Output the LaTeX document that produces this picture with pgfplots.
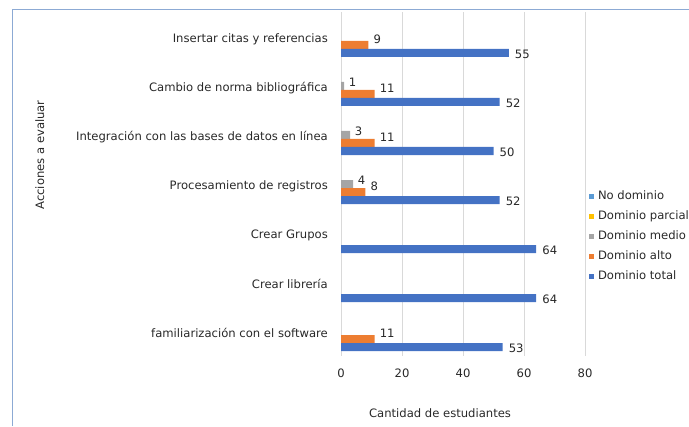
\documentclass[border=0pt]{standalone}
\usepackage{pgfplots}
\pgfplotsset{compat=1.18}
\usepackage{fontspec}
\setmainfont{DejaVu Sans}
\definecolor{ctotal}{HTML}{4472C4}
\definecolor{calto}{HTML}{ED7D31}
\definecolor{cmedio}{HTML}{A5A5A5}
\definecolor{cparcial}{HTML}{FFC000}
\definecolor{cno}{HTML}{5B9BD5}
\definecolor{cgrid}{HTML}{D9D9D9}
\definecolor{cframe}{RGB}{140,170,212}
\definecolor{ctext}{RGB}{40,40,40}
\begin{document}
\begin{tikzpicture}[x=1bp,y=1bp,font=\fontsize{11.6bp}{13.5bp}\selectfont,text=ctext]
\useasboundingbox (0,0) rectangle (689,426);
\clip (0,0) rectangle (689,426);
\draw[cframe,line width=1bp] (12,0) -- (12,416) -- (700,416);
\pgfplotsset{sqleg/.style={legend image code/.code={\fill[##1,draw=none] (0bp,-2.5bp) rectangle (5bp,2.5bp);}}}
\begin{axis}[
  at={(341bp,70.5bp)}, anchor=south west,
  scale only axis, width=244bp, height=343bp,
  xbar, bar width=8bp,
  xmin=0, xmax=80, ymin=-0.5, ymax=6.5,
  xtick={0,20,40,60,80},
  ytick={0,1,2,3,4,5,6},
  yticklabels={familiarización con el software, Crear librería, Crear Grupos, Procesamiento de registros, Integración con las bases de datos en línea, Cambio de norma bibliográfica, Insertar citas y referencias},
  axis line style={draw=none},
  major tick length=0pt,
  xmajorgrids, grid style={draw=cgrid, line width=0.9bp},
  /pgf/number format/assume math mode=true,
  yticklabel style={anchor=east, inner sep=0pt, xshift=-13bp, yshift=-2bp},
  xticklabel style={anchor=north, inner sep=0pt, yshift=-13bp},
  xlabel={Cantidad de estudiantes},
  ylabel={Acciones a evaluar},
  every axis x label/.style={at={(axis description cs:0.406,0)}, anchor=center, yshift=-57.5bp},
  every axis y label/.style={at={(axis description cs:-1.234,0.5845)}, anchor=center, rotate=90},
  every axis plot/.append style={sqleg},
  legend style={draw=none, fill=none, inner sep=0pt, outer sep=0pt,
    at={(axis description cs:1.0164,0.4767)}, anchor=north west,
    nodes={inner sep=0pt, anchor=west, text height=8bp, text depth=2bp},
    row sep=10bp,
    /tikz/every odd column/.append style={column sep=4bp}},
  legend cell align=left,
]
\addlegendimage{sqleg, fill=cno, draw=none}
\addlegendentry{No dominio}
\addlegendimage{sqleg, fill=cparcial, draw=none}
\addlegendentry{Dominio parcial}
\addplot[fill=cmedio, draw=none, bar shift=0bp,
  nodes near coords, every node near coord/.append style={anchor=west, inner sep=0pt, xshift=4.5bp, yshift=4bp, text=ctext}]
  coordinates {(1,5) (3,4) (4,3)};
\addlegendentry{Dominio medio}
\addplot[fill=calto, draw=none, bar shift=-8bp,
  nodes near coords, every node near coord/.append style={anchor=west, inner sep=0pt, xshift=5bp, yshift=6bp, text=ctext}]
  coordinates {(11,0) (8,3) (11,4) (11,5) (9,6)};
\addlegendentry{Dominio alto}
\addplot[fill=ctotal, draw=none, bar shift=-16bp,
  nodes near coords, every node near coord/.append style={anchor=west, inner sep=0pt, xshift=6bp, yshift=-1bp, text=ctext}]
  coordinates {(53,0) (64,1) (64,2) (52,3) (50,4) (52,5) (55,6)};
\addlegendentry{Dominio total}
\end{axis}
\end{tikzpicture}
\end{document}
